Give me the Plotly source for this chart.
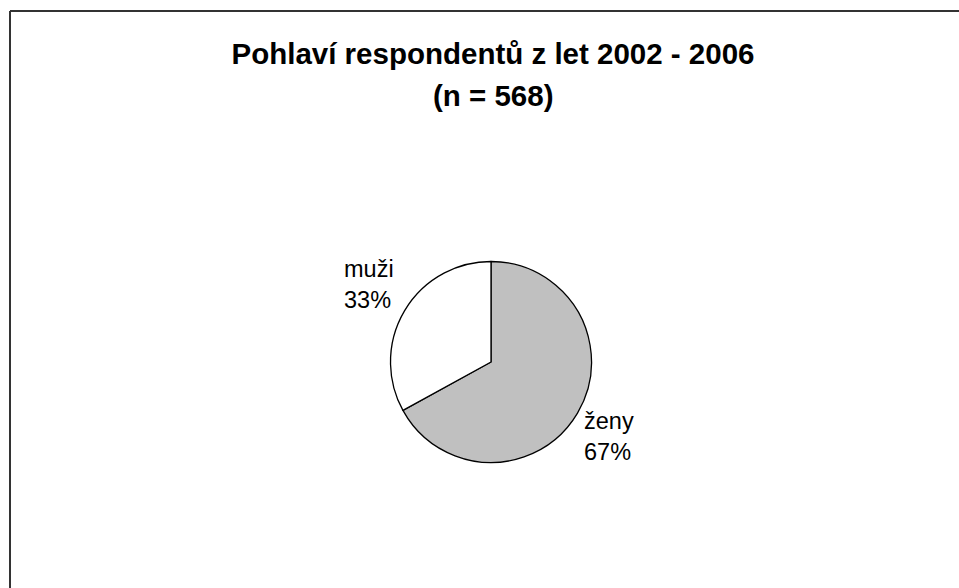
import plotly.graph_objects as go

labels = ["ženy", "muži"]
values = [67, 33]
colors = ["#C0C0C0", "#FFFFFF"]
title_lines = ["Pohlaví respondentů z let 2002 - 2006", "(n = 568)"]

W, H = 959, 588
cx, cy, r = 491, 362, 100.5               # pie centre / radius in pixels
title_cx = 493                            # title centre x (px)
title_cy = [54, 95]                       # title line centres y (px)
label_offsets = [(118, 74), (-122, -78)]  # label-centre offsets from pie centre (px)
FONT = "Liberation Sans, Arial, sans-serif"

fig = go.Figure(go.Pie(
    labels=labels,
    values=values,
    sort=False,
    direction="clockwise",
    rotation=0,
    marker=dict(colors=colors, line=dict(color="#000000", width=1.3)),
    textinfo="none",
    showlegend=False,
    hoverinfo="label+percent",
    domain=dict(x=[(cx - r) / W, (cx + r) / W], y=[(H - cy - r) / H, (H - cy + r) / H]),
))

total = sum(values)
annotations = []
for lab, val, (dx, dy) in zip(labels, values, label_offsets):
    annotations.append(dict(
        text=f"{lab}<br>{round(val / total * 100)}%",
        x=(cx + dx) / W, y=1 - (cy + dy) / H, xref="paper", yref="paper",
        xanchor="center", yanchor="middle", showarrow=False, align="left",
        font=dict(family=FONT, size=23.5, color="#000000"),
    ))

# second title line (its spacing is larger than Plotly's default line height)
annotations.append(dict(
    text=title_lines[1], x=title_cx / W, y=1 - title_cy[1] / H, xref="paper", yref="paper",
    xanchor="center", yanchor="middle", showarrow=False,
    font=dict(family=FONT, size=29.5, color="#000000", weight="bold"),
))

fig.update_layout(
    width=W, height=H,
    margin=dict(l=0, r=0, t=0, b=0),
    paper_bgcolor="#FFFFFF",
    plot_bgcolor="#FFFFFF",
    title=dict(
        text=title_lines[0],
        x=title_cx / W, xanchor="center",
        y=1 - title_cy[0] / H, yanchor="middle",
        font=dict(family=FONT, size=29.5, color="#000000", weight="bold"),
    ),
    annotations=annotations,
    shapes=[
        dict(type="line", xref="paper", yref="paper",
             x0=10 / W, x1=1.05, y0=1 - 11 / H, y1=1 - 11 / H,
             line=dict(color="#333333", width=2)),
        dict(type="line", xref="paper", yref="paper",
             x0=10 / W, x1=10 / W, y0=-0.05, y1=1 - 11 / H,
             line=dict(color="#333333", width=2)),
    ],
)

fig.write_html(
    "out.html",
    config={"displayModeBar": False},
    post_script="document.body.style.margin='0';document.body.style.overflow='hidden';",
)
